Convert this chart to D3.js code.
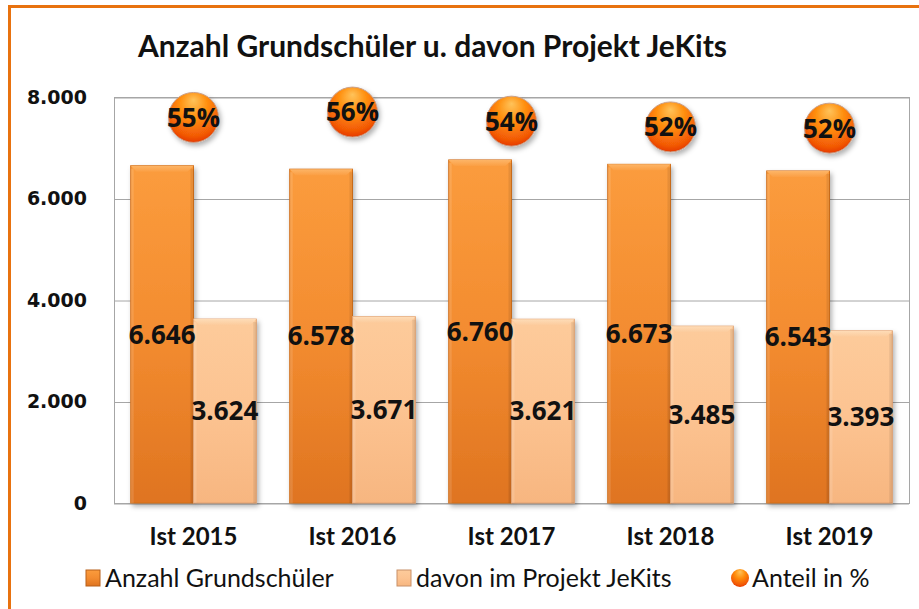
<!DOCTYPE html>
<html>
<head>
<meta charset="utf-8">
<script src="https://cdn.jsdelivr.net/npm/d3@7"></script>
<style>
  body { margin: 0; background: #fff; }
  svg { display: block; }
  .cat text { font-family: Lato, "Open Sans", sans-serif; font-weight: bold; font-size: 24px; fill: #111; }
  .yaxis text { font-family: "DejaVu Sans", sans-serif; font-weight: bold; font-size: 19px; fill: #111; }
</style>
</head>
<body>
<div id="main"></div>
<script>
// **** data ****
var years = ["Ist 2015", "Ist 2016", "Ist 2017", "Ist 2018", "Ist 2019"];
var schueler = [6646, 6578, 6760, 6673, 6543];
var jekits = [3624, 3671, 3621, 3485, 3393];
var anteil = [54.5, 55.8, 53.6, 52.2, 51.9];
var yTicks = [0, 2000, 4000, 6000, 8000];
var seriesNames = ["Anzahl Grundschüler", "davon im Projekt JeKits", "Anteil in %"];

var W = 919, H = 609;
var plot = {left: 114, right: 909, top: 97, bottom: 503};

var svg = d3.select("#main").append("svg")
    .attr("width", W)
    .attr("height", H);

var de = d3.formatLocale({decimal: ",", thousands: ".", grouping: [3], currency: ["", "€"]});
var fmt = de.format(",d");

// **** gradients ****
var defs = svg.append("defs");

function linGrad(id, stops, x2, y2) {
  var g = defs.append("linearGradient").attr("id", id)
    .attr("x1", 0).attr("y1", 0).attr("x2", x2).attr("y2", y2);
  stops.forEach(function(s) {
    g.append("stop").attr("offset", s[0]).attr("stop-color", s[1]);
  });
}
linGrad("gOrange", [[0, "#fb9c3d"], [0.5, "#f38c30"], [1, "#df7420"]], 0, 1);
linGrad("gPeach", [[0, "#fdcb9b"], [0.5, "#fcc391"], [1, "#f7b680"]], 0, 1);
linGrad("gOrangeTop", [[0, "#fdb567"], [1, "#fb9f44"]], 0, 1);
linGrad("gPeachTop", [[0, "#fedcb7"], [1, "#fccb9c"]], 0, 1);

var rg = defs.append("radialGradient").attr("id", "gBall")
  .attr("cx", "50%").attr("cy", "35%").attr("r", "65%").attr("fx", "50%").attr("fy", "15%");
rg.append("stop").attr("offset", 0).attr("stop-color", "#ffc35a");
rg.append("stop").attr("offset", 0.45).attr("stop-color", "#ff8c0a");
rg.append("stop").attr("offset", 0.85).attr("stop-color", "#f25a06");
rg.append("stop").attr("offset", 1).attr("stop-color", "#e63a00");

var sh = defs.append("filter").attr("id", "shadow")
  .attr("x", "-20%").attr("y", "-20%").attr("width", "150%").attr("height", "150%");
sh.append("feDropShadow").attr("dx", 2).attr("dy", 3).attr("stdDeviation", 2.5)
  .attr("flood-color", "#000").attr("flood-opacity", 0.3);

// **** outer frame ****
svg.append("rect")
  .attr("x", 9.5).attr("y", 6.5)
  .attr("width", 1000).attr("height", 1000)
  .attr("fill", "none")
  .attr("stroke", "#e8720f")
  .attr("stroke-width", 3);

// **** title ****
svg.append("text")
  .attr("x", 138).attr("y", 57)
  .text("Anzahl Grundschüler u. davon Projekt JeKits")
  .style("font-family", "Lato, 'Open Sans', sans-serif")
  .style("font-weight", "bold")
  .style("font-size", "30px")
  .style("fill", "#111");

// **** scales ****
var x = d3.scaleBand().domain(years)
  .range([plot.left, plot.right])
  .paddingInner(0.21).paddingOuter(0.105);
var xSub = d3.scaleBand().domain(["s", "j"]).range([0, x.bandwidth()]);
var y = d3.scaleLinear().domain([0, 8000]).range([plot.bottom, plot.top]);
var yPct = d3.scaleLinear().domain([50, 58]).range([136, 103]);

// **** plot area + grid ****
svg.append("rect")
  .attr("x", plot.left + 0.5).attr("y", plot.top + 0.5)
  .attr("width", plot.right - plot.left).attr("height", plot.bottom - plot.top)
  .attr("fill", "#fff").attr("stroke", "#a6a6a6");

svg.append("g")
  .attr("transform", "translate(" + plot.left + ",0)")
  .call(d3.axisLeft(y).tickValues(yTicks).tickSize(-(plot.right - plot.left)).tickFormat(""))
  .call(function(g) { g.select(".domain").remove(); })
  .selectAll("line")
  .attr("stroke", "#a6a6a6")
  .attr("transform", "translate(0,0.5)");

svg.append("g")
  .attr("class", "yaxis")
  .attr("transform", "translate(" + plot.left + ",0)")
  .call(d3.axisLeft(y).tickValues(yTicks).tickSize(0).tickPadding(27).tickFormat(fmt))
  .call(function(g) { g.select(".domain").remove(); });

svg.append("g")
  .attr("class", "cat")
  .attr("transform", "translate(0," + plot.bottom + ")")
  .call(d3.axisBottom(x).tickSize(0).tickPadding(25))
  .call(function(g) { g.select(".domain").remove(); });

// **** bars ****
var labelData = [];
function drawBars(vals, key, fill, topFill, edge) {
  var g = svg.append("g").selectAll("g")
    .data(vals).enter().append("g")
    .attr("transform", function(d, i) {
      return "translate(" + (x(years[i]) + xSub(key)) + ",0)";
    });
  var bw = xSub.bandwidth();
  g.append("rect")
    .attr("x", 0).attr("y", function(d) { return y(d); })
    .attr("width", bw).attr("height", function(d) { return plot.bottom - y(d); })
    .attr("fill", "url(#" + fill + ")")
    .attr("stroke", edge).attr("stroke-width", 1)
    .attr("filter", "url(#shadow)");
  // bevel on top
  g.append("path")
    .attr("d", function(d) {
      var t = y(d), b = 6;
      return "M0," + t + "L" + bw + "," + t + "L" + (bw - b) + "," + (t + b) + "L" + b + "," + (t + b) + "Z";
    })
    .attr("fill", "url(#" + topFill + ")");
  // side shading
  g.append("rect")
    .attr("x", bw - 3).attr("y", function(d) { return y(d) + 3; })
    .attr("width", 3).attr("height", function(d) { return plot.bottom - y(d) - 3; })
    .attr("fill", "#000").attr("opacity", 0.08);
  g.append("rect")
    .attr("x", 0).attr("y", function(d) { return y(d) + 3; })
    .attr("width", 3).attr("height", function(d) { return plot.bottom - y(d) - 3; })
    .attr("fill", "#fff").attr("opacity", 0.12);
  vals.forEach(function(d, i) {
    labelData.push({v: d, cx: x(years[i]) + xSub(key) + bw / 2});
  });
}
drawBars(schueler, "s", "gOrange", "gOrangeTop", "#d0701e");
drawBars(jekits, "j", "gPeach", "gPeachTop", "#e0a070");

// value labels on top of all bars
svg.append("g").selectAll("text")
  .data(labelData).enter().append("text")
  .attr("x", function(d) { return d.cx; })
  .attr("y", function(d) { return (y(d.v) + plot.bottom) / 2; })
  .attr("dy", "0.36em")
  .attr("text-anchor", "middle")
  .text(function(d) { return fmt(d.v); })
  .style("font-family", "'Open Sans', sans-serif")
  .style("font-weight", "bold")
  .style("font-size", "26px")
  .style("fill", "#111");

// **** bubbles ****
var balls = svg.append("g").selectAll("g")
  .data(anteil).enter().append("g")
  .attr("transform", function(d, i) {
    return "translate(" + (x(years[i]) + x.bandwidth() / 2) + "," + yPct(d) + ")";
  });
balls.append("circle")
  .attr("r", 25)
  .attr("fill", "url(#gBall)")
  .attr("stroke", "#c9a08a").attr("stroke-width", 1)
  .attr("filter", "url(#shadow)");
balls.append("text")
  .attr("dy", "0.36em")
  .attr("text-anchor", "middle")
  .text(function(d) { return Math.round(d) + "%"; })
  .style("font-family", "'Open Sans', sans-serif")
  .style("font-weight", "bold")
  .style("font-size", "26px")
  .style("fill", "#111");

// **** legend ****
var legX = [84, 395, 731];
var leg = svg.append("g").selectAll("g")
  .data(seriesNames).enter().append("g")
  .attr("transform", function(d, i) { return "translate(" + legX[i] + ",578)"; });
leg.each(function(d, i) {
  var g = d3.select(this);
  if (i < 2) {
    g.append("rect")
      .attr("x", 2).attr("y", -8).attr("width", 14).attr("height", 16)
      .attr("fill", i == 0 ? "url(#gOrange)" : "url(#gPeach)")
      .attr("stroke", i == 0 ? "#b8601a" : "#c89068");
  } else {
    g.append("circle")
      .attr("cx", 9).attr("cy", 0).attr("r", 9)
      .attr("fill", "url(#gBall)");
  }
  g.append("text")
    .attr("x", 21).attr("dy", "0.36em")
    .text(d)
    .style("font-family", "Lato, 'Open Sans', sans-serif")
    .style("font-size", "25px")
    .style("fill", "#111");
});
</script>
</body>
</html>
